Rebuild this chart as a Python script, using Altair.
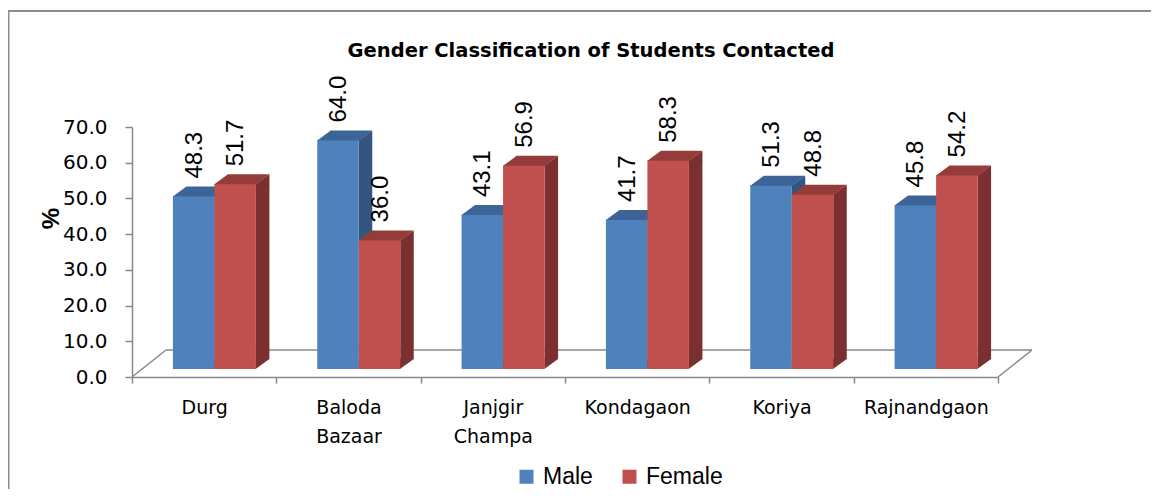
import altair as alt
import pandas as pd

# ---- data ----
districts = ["Durg", "Baloda Bazaar", "Janjgir Champa", "Kondagaon", "Koriya", "Rajnandgaon"]
male = [48.3, 64.0, 43.1, 41.7, 51.3, 45.8]
female = [51.7, 36.0, 56.9, 58.3, 48.8, 54.2]
series = ["Male", "Female"]
y_ticks = [0, 10, 20, 30, 40, 50, 60, 70]
chart_title = "Gender Classification of Students Contacted"
y_title = "%"

# ---- styles ----
front_colors = ["#4F81BD", "#C0504D"]
top_colors = ["#3D6496", "#943C3A"]
side_colors = ["#34557F", "#7B302F"]
grey = "#898989"

W, H = 866, 250
PAD = {"left": 124, "top": 119, "right": 153, "bottom": 112}

rows = []
for d, m, f in zip(districts, male, female):
    rows.append({"district": d, "gender": "Male", "pct": m, "zero": 0})
    rows.append({"district": d, "gender": "Female", "pct": f, "zero": 0})
df = pd.DataFrame(rows)
one = pd.DataFrame({"t": [chart_title]})

# 3D geometry (pixels)
BAR_W = 41.5
HALF = BAR_W / 2
DX, DY = 13.5, 10           # depth offsets
CENTER = [-10.5, 31.0]      # bar centre relative to the district band centre
LIFT = -8                   # front face base above the floor front edge

top_face = f"M{-HALF},0.6 L{-HALF},0 L{-HALF+DX},{-DY} L{HALF+DX},{-DY} L{HALF},0 L{HALF},0.6 Z"
side_top = f"M{HALF-0.3},0 L{HALF+DX},{-DY} L{HALF+DX},0.6 L{HALF-0.3},0.6 Z"
side_bot = f"M{HALF-0.3},{-DY-0.6} L{HALF+DX},{-DY-0.6} L{HALF+DX},{-DY} L{HALF-0.3},0 Z"

x_enc = alt.X(
    "district:N", sort=districts,
    scale=alt.Scale(paddingInner=0, paddingOuter=0),
    axis=alt.Axis(
        title=None, labelAngle=0, tickBand="extent",
        labelExpr="split(datum.label, ' ')",
        labelFont="DejaVu Sans", labelFontSize=19, labelColor="#000000",
        labelLineHeight=29, labelPadding=15, labelOverlap=False,
        domainColor=grey, domainWidth=1.5, tickColor=grey, tickWidth=1.5, tickSize=6,
        grid=False,
    ),
)
y_scale = alt.Scale(domain=[0, 70], nice=False, zero=True)
y_axis = alt.Axis(
    values=y_ticks, format=".1f", grid=False, labelOverlap=False, labelFlush=False,
    labelFont="DejaVu Sans", labelFontSize=20, labelColor="#000000", labelPadding=18,
    domainColor=grey, domainWidth=1.5, tickColor=grey, tickWidth=1.5, tickSize=7,
    title=y_title, titleFont="Liberation Sans", titleFontSize=24, titleFontWeight="bold",
    titleColor="#000000", titleAngle=270, titleX=-81, titleY=91,
    titleAlign="center", titleBaseline="middle",
)
y_enc = alt.Y("pct:Q", scale=y_scale, axis=y_axis)
y0_enc = alt.Y("zero:Q", scale=y_scale, axis=y_axis)

base = alt.Chart(df)
layers = []

# frame (left and top edges of the figure box)
layers.append(alt.Chart(one).mark_rule(color="#8C8C8C", strokeWidth=2).encode(
    x=alt.value(-123.5), y=alt.value(-116), y2=alt.value(H + 130)))
layers.append(alt.Chart(one).mark_rule(color="#8C8C8C", strokeWidth=2).encode(
    x=alt.value(-124.5), x2=alt.value(W + 170), y=alt.value(-116)))

# floor outline
layers.append(alt.Chart(one).mark_rule(color=grey, strokeWidth=1.5).encode(
    x=alt.value(34), x2=alt.value(W + 34), y=alt.value(H - 27)))
layers.append(alt.Chart(one).mark_rule(color=grey, strokeWidth=1.5).encode(
    x=alt.value(0), x2=alt.value(34), y=alt.value(H), y2=alt.value(H - 27)))
layers.append(alt.Chart(one).mark_rule(color=grey, strokeWidth=1.5).encode(
    x=alt.value(W), x2=alt.value(W + 34), y=alt.value(H), y2=alt.value(H - 27)))

for i, g in enumerate(series):
    b = base.transform_filter(alt.datum.gender == g)
    c = CENTER[i]
    # side face (middle strip)
    layers.append(b.mark_bar(width=DX, xOffset=c + HALF + DX / 2,
                             yOffset=LIFT, y2Offset=LIFT - DY, color=side_colors[i]).encode(
        x=x_enc, y=y_enc, y2="zero:Q"))
    # side face top triangle
    layers.append(b.mark_point(shape=side_top, size=4, filled=True, opacity=1, strokeWidth=0,
                               color=side_colors[i], xOffset=c, yOffset=LIFT).encode(
        x=x_enc, y=y_enc))
    # side face bottom triangle
    layers.append(b.mark_point(shape=side_bot, size=4, filled=True, opacity=1, strokeWidth=0,
                               color=side_colors[i], xOffset=c, yOffset=LIFT).encode(
        x=x_enc, y=y0_enc))
    # top face
    layers.append(b.mark_point(shape=top_face, size=4, filled=True, opacity=1, strokeWidth=0,
                               color=top_colors[i], xOffset=c, yOffset=LIFT).encode(
        x=x_enc, y=y_enc))
    # front face
    layers.append(b.mark_bar(width=BAR_W, xOffset=c, yOffset=LIFT, y2Offset=LIFT).encode(
        x=x_enc, y=y_enc, y2="zero:Q",
        color=alt.Color("gender:N", scale=alt.Scale(domain=series, range=front_colors),
                        legend=alt.Legend(
                            orient="none", legendX=383, legendY=338, direction="horizontal",
                            title=None, symbolType="square", symbolSize=196,
                            symbolStrokeWidth=0, symbolOpacity=1,
                            labelFont="Liberation Sans", labelFontSize=23,
                            labelColor="#000000", labelOffset=5, columnPadding=25,
                            labelLimit=200,
                        ))))

# value labels
for i, g in enumerate(series):
    b = base.transform_filter(alt.datum.gender == g)
    layers.append(b.mark_text(angle=270, align="left", baseline="middle",
                              font="Liberation Sans", fontSize=24, color="#000000",
                              xOffset=CENTER[i] + 1, yOffset=LIFT - 18).encode(
        x=x_enc, y=y_enc, text=alt.Text("pct:Q", format=".1f")))

# chart title
layers.append(alt.Chart(one).mark_text(font="DejaVu Sans", fontSize=19.5, fontWeight="bold",
                                       color="#000000", align="center",
                                       baseline="alphabetic").encode(
    text="t:N", x=alt.value(459), y=alt.value(-70)))

chart = alt.layer(*layers).properties(
    width=W, height=H,
    autosize=alt.AutoSizeParams(type="none"),
    padding=PAD,
    background="#FFFFFF",
).configure_view(stroke=None)

chart.save("out.html", embed_options={"renderer": "svg", "actions": False})
